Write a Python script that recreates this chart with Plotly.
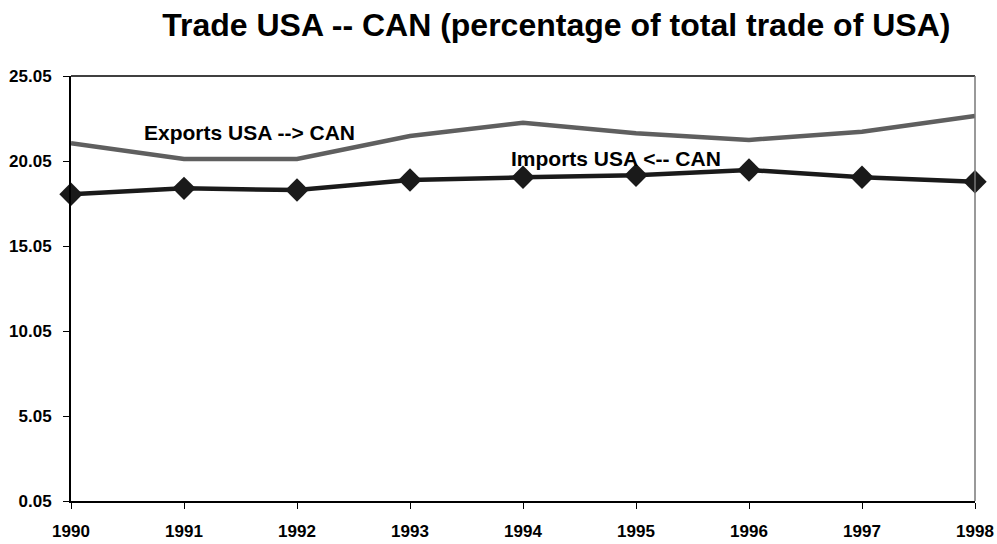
import plotly.graph_objects as go

years = [1990, 1991, 1992, 1993, 1994, 1995, 1996, 1997, 1998]
exports = [21.09, 20.17, 20.17, 21.52, 22.30, 21.68, 21.29, 21.77, 22.70]
imports = [18.09, 18.44, 18.34, 18.93, 19.09, 19.21, 19.52, 19.09, 18.83]
yticks = [0.05, 5.05, 10.05, 15.05, 20.05, 25.05]
ytick_labels = ["0.05", "5.05", "10.05", "15.05", "20.05", "25.05"]

FONT = "Liberation Sans, Arial, sans-serif"

fig = go.Figure()
fig.add_trace(go.Scatter(x=years, y=exports, mode="lines",
                         line=dict(color="#5f5f5f", width=4.5),
                         cliponaxis=False, showlegend=False))
fig.add_trace(go.Scatter(x=years, y=imports, mode="lines+markers",
                         line=dict(color="#1a1a1a", width=4.5),
                         marker=dict(symbol="diamond", size=18, color="#1a1a1a"),
                         cliponaxis=False, showlegend=False))

fig.add_annotation(x=1991.58, y=21.75, text="<b>Exports USA --> CAN</b>",
                   showarrow=False, font=dict(family=FONT, size=21, color="black"))
fig.add_annotation(x=1994.82, y=20.22, text="<b>Imports USA <-- CAN</b>",
                   showarrow=False, font=dict(family=FONT, size=21, color="black"))

fig.update_layout(
    width=997, height=544,
    margin=dict(l=71, r=22, t=76, b=43, autoexpand=False),
    paper_bgcolor="white", plot_bgcolor="white",
    title=dict(text="<b>Trade USA -- CAN (percentage of total trade of USA)</b>",
               x=0.558, xanchor="center", yref="container", y=0.955, yanchor="middle",
               font=dict(family=FONT, size=32, color="black")),
    xaxis=dict(range=[1990, 1998], tickmode="array", tickvals=years,
               ticktext=[f"<b>{y}</b>" for y in years],
               showgrid=False, zeroline=False, automargin=False,
               showline=True, linecolor="black", linewidth=2,
               ticks="outside", ticklen=6, tickcolor="black", tickwidth=1,
               ticklabelstandoff=8,
               tickfont=dict(family=FONT, size=17, color="black")),
    yaxis=dict(range=[0.05, 25.05], tickmode="array", tickvals=yticks,
               ticktext=[f"<b>{t}</b>" for t in ytick_labels],
               showgrid=False, zeroline=False, automargin=False,
               showline=True, linecolor="black", linewidth=2,
               ticks="outside", ticklen=6, tickcolor="black", tickwidth=1,
               ticklabelstandoff=8,
               tickfont=dict(family=FONT, size=17, color="black")),
    shapes=[
        dict(type="line", xref="paper", yref="paper", x0=0, x1=1, y0=1, y1=1,
             line=dict(color="black", width=1.5)),
        dict(type="line", xref="paper", yref="paper", x0=1, x1=1, y0=0, y1=1,
             line=dict(color="#777777", width=1.5)),
    ],
)
fig.write_html("out.html", config={"displayModeBar": False},
               post_script="document.body.style.margin='0';document.body.style.overflow='hidden';")
